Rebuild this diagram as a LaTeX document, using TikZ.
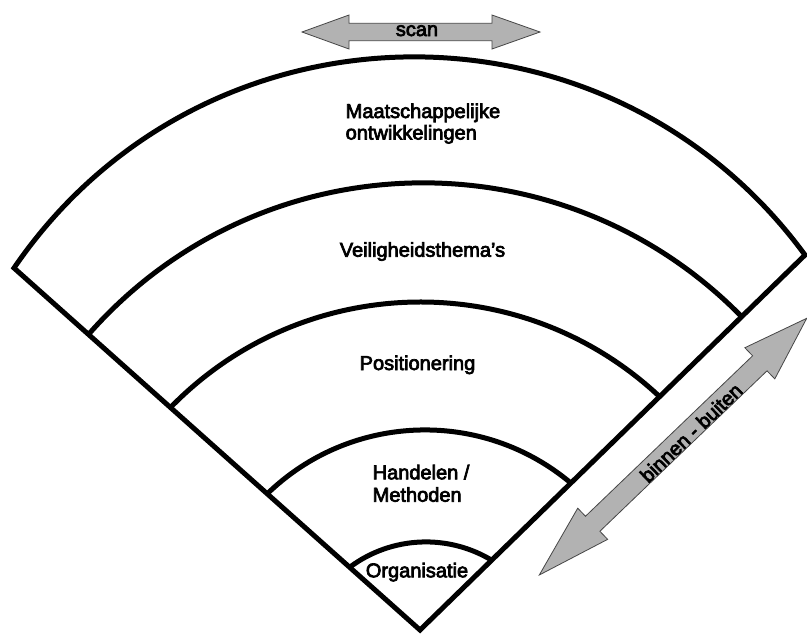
\documentclass[tikz,border=0pt]{standalone}
\usepackage{fontspec}
\setmainfont{Liberation Sans}
\newfontfamily\lab{Liberation Sans}
\newcommand\heavytext[1]{\special{pdf:literal 2 Tr 0.7 w 0 G}#1\special{pdf:literal 0 Tr}}
\definecolor{arrowgray}{RGB}{178,178,178}
\definecolor{arrowedge}{RGB}{70,70,70}
\tikzset{
  band/.style={line width=5pt, draw=black},
  lbl/.style={font=\lab\fontsize{20}{22}\selectfont, inner sep=0pt, text=black},
  fatarrow/.style={fill=arrowgray, draw=arrowedge, line width=0.8pt, line join=miter},
}
\begin{document}
\begin{tikzpicture}[x=1pt,y=-1pt]
\useasboundingbox (0,0) rectangle (807,633);
\fill[white] (0,0) rectangle (807,633);
% corner points of the bands
\coordinate (apex) at (420,630);
\coordinate (l1) at (14,268);  \coordinate (r1) at (805,255);
\coordinate (l2) at (88,335);  \coordinate (r2) at (742,317);
\coordinate (l3) at (170,408); \coordinate (r3) at (660,397);
\coordinate (l4) at (267,494); \coordinate (r4) at (572,484);
\coordinate (l5) at (350,567); \coordinate (r5) at (493,561);
% wedge outline
\draw[band, line join=miter] (l1) .. controls (202.7,-7.9) and (607.3,-14.6) .. (r1) -- (apex) -- cycle;
% inner arcs
\draw[band] (l2) .. controls (259.1,139.4) and (560.2,131.3) .. (r2);
\draw[band] (l3) .. controls (302.9,271.0) and (521.1,266.2) .. (r3);
\draw[band] (l4) .. controls (350.9,412.6) and (483.0,408.2) .. (r4);
\draw[band] (l5) .. controls (391.9,535.9) and (448.6,533.5) .. (r5);
% labels
\node[lbl, anchor=base west] (maat1) at (345.5,118) {\heavytext{Maatschappelijke}};
\node[lbl, anchor=base west] (maat2) at (345.5,139.5) {\heavytext{ontwikkelingen}};
\node[lbl, anchor=base] (veil) at (422.5,256.7) {\heavytext{Veiligheidsthema’s}};
\node[lbl, anchor=base] (pos) at (417.5,370) {\heavytext{Positionering}};
\node[lbl, anchor=base west] (hand1) at (372.5,479.3) {\heavytext{Handelen /}};
\node[lbl, anchor=base west] (hand2) at (372.5,501.7) {\heavytext{Methoden}};
\node[lbl, anchor=base] (org) at (417,577.3) {\heavytext{Organisatie}};
% scan arrow
\draw[fatarrow] (302,32) -- (349,15) -- (349,23.3) -- (492,23.3) -- (492,15) -- (540,32)
  -- (492,49) -- (492,40.7) -- (349,40.7) -- (349,49) -- cycle;
\node[lbl, anchor=base] (scan) at (417,36) {\heavytext{scan}};
% binnen - buiten arrow
\begin{scope}[shift={(539.3,575)}, rotate=43.83]
\draw[fatarrow] (0,0) -- (74,21.6) -- (74,10.4) -- (305.7,10.4) -- (305.7,21.6) -- (370.7,0)
  -- (305.7,-21.6) -- (305.7,-10.4) -- (74,-10.4) -- (74,-21.6) -- cycle;
\node[lbl, rotate=43.83, anchor=center] (bb) at (208,2.5) {\heavytext{binnen - buiten}};
\end{scope}
\end{tikzpicture}
\end{document}
